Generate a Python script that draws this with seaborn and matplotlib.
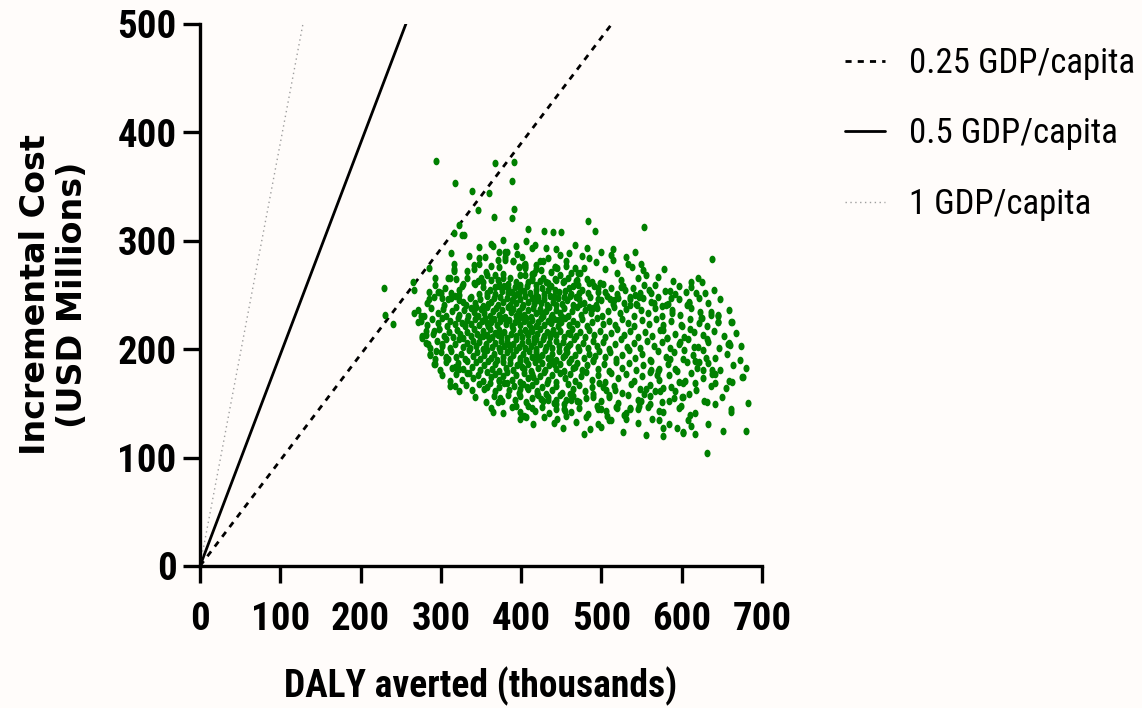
import matplotlib
matplotlib.use("Agg")
import matplotlib.pyplot as plt
import seaborn as sns
import numpy as np
import pandas as pd
from matplotlib import font_manager
from matplotlib.font_manager import FontProperties
from matplotlib.path import Path

# ---------------- data ----------------
# probabilistic sensitivity analysis draws: (DALY averted [thousands], incremental cost [USD millions])
psa_draws_upper = [
    (229, 256), (230, 232), (240, 223), (294, 374), (368, 372), (391, 373), (389, 355), (317, 353),
    (339, 346), (360, 344), (346, 328), (391, 329), (366, 322), (388, 321), (323, 315), (408, 311),
    (429, 309), (440, 308), (450, 308), (316, 307), (326, 305), (329, 305), (378, 301), (406, 300),
    (467, 296), (363, 297), (365, 295), (347, 294), (393, 295), (417, 296), (413, 293), (431, 293),
    (313, 289), (373, 290), (380, 290), (380, 285), (380, 282), (335, 286), (347, 284), (449, 287),
    (371, 282), (363, 277), (390, 281), (427, 281), (405, 277), (405, 275), (456, 281), (456, 277),
    (316, 279), (316, 274), (316, 272), (341, 278), (341, 274), (397, 276), (418, 278), (418, 274),
    (442, 276), (445, 275), (467, 275), (285, 275), (333, 272), (347, 279), (356, 271), (368, 268),
    (377, 269), (377, 266), (414, 269), (414, 266), (414, 264), (293, 266), (293, 259), (309, 266),
    (311, 266), (319, 265), (332, 266), (350, 266), (363, 264), (399, 268), (442, 265), (444, 264),
    (454, 263), (452, 262), (468, 263), (265, 262), (266, 255), (328, 260), (326, 258), (341, 261),
    (343, 260), (372, 260), (372, 258), (384, 260), (384, 256), (384, 252), (399, 259), (399, 256),
    (418, 259), (418, 255), (424, 263), (434, 261), (442, 255), (441, 249), (455, 254), (454, 248),
    (464, 258), (285, 253), (285, 246), (298, 253), (300, 252), (296, 253), (313, 252), (313, 247),
    (322, 255), (322, 250), (322, 245), (336, 247),
    (483, 318), (492, 309), (553, 313), (482, 293), (476, 286), (485, 284), (514, 292), (512, 287),
    (514, 282), (530, 285), (533, 279), (538, 276), (638, 283), (570, 267), (478, 275), (473, 270),
    (524, 264), (524, 257), (529, 255), (567, 259), (559, 255), (562, 252), (579, 254), (605, 253),
    (629, 252), (609, 244), (498, 261), (502, 260), (512, 256), (511, 246), (516, 245), (482, 265),
    (484, 261), (488, 262), (470, 264), (471, 259), (472, 252), (470, 248), (473, 242), (496, 256),
    (496, 253), (496, 246), (536, 248), (535, 241), (542, 250), (547, 248), (543, 242), (485, 239),
    (490, 238), (383, 290), (390, 281), (397, 276), (403, 278), (405, 279), (416, 270), (423, 281),
    (442, 276), (471, 270),
    (352, 262), (358, 268), (371, 264), (386, 266), (393, 262), (405, 268), (409, 262), (427, 266),
    (431, 262), (448, 268), (458, 266), (462, 270), (437, 271), (346, 263), (425, 273), (433, 284),
    (395, 288), (401, 285), (355, 285), (372, 276), (444, 292), (459, 289), (520, 270), (546, 266),
    (552, 273), (589, 263), (597, 258), (612, 262), (625, 262), (505, 274), (493, 280), (499, 290),
    (542, 290), (549, 279), (556, 268), (578, 274), (587, 247), (620, 266),
]

psa_draws_core = [
    # 250-260
    (352, 257), (358, 252), (361, 255), (367, 251), (376, 254), (379, 258), (388, 253), (392, 257),
    (395, 251), (403, 254), (407, 258), (411, 252), (426, 256), (429, 251), (437, 258), (447, 253),
    (459, 256), (462, 251), (476, 255), (483, 252), (491, 258), (505, 253), (520, 251), (527, 258),
    (539, 256), (548, 252), (553, 259), (585, 254), (592, 251), (611, 257), (618, 252), (640, 255),
    (305, 256), (347, 251), (368, 257), (433, 255), (397, 252), (419, 250),
    # 240-250
    (283, 243), (291, 248), (304, 241), (309, 246), (318, 249), (327, 244), (331, 241), (338, 248),
    (342, 243), (349, 246), (353, 240), (357, 249), (362, 244), (366, 247), (371, 241), (374, 248),
    (378, 244), (383, 247), (386, 241), (391, 249), (394, 243), (398, 246), (402, 241), (405, 249),
    (409, 244), (413, 247), (416, 242), (421, 248), (425, 243), (428, 246), (432, 241), (436, 249),
    (440, 244), (446, 247), (451, 242), (457, 245), (461, 249), (465, 241), (472, 246), (478, 243),
    (486, 248), (493, 241), (499, 245), (507, 249), (514, 242), (521, 247), (528, 243), (536, 246),
    (544, 241), (552, 247), (562, 244), (571, 248), (583, 242), (596, 246), (606, 241), (622, 247),
    (633, 243), (648, 246), (359, 242), (388, 245), (420, 245), (444, 241), (468, 248), (301, 247),
    # 230-240
    (272, 236), (279, 231), (288, 238), (296, 233), (303, 237), (307, 231), (314, 235), (319, 239),
    (323, 232), (329, 236), (334, 231), (337, 238), (341, 234), (346, 231), (350, 237), (354, 233),
    (358, 239), (361, 231), (365, 235), (369, 238), (372, 232), (376, 236), (380, 230), (384, 239),
    (387, 234), (390, 237), (393, 231), (397, 235), (401, 239), (404, 232), (408, 236), (412, 230),
    (415, 238), (419, 233), (423, 237), (427, 231), (431, 235), (435, 239), (439, 232), (443, 236),
    (448, 233), (453, 238), (458, 231), (463, 235), (469, 239), (474, 232), (480, 236), (487, 233),
    (494, 238), (501, 231), (508, 235), (516, 239), (523, 233), (531, 237), (540, 231), (549, 236),
    (558, 233), (567, 238), (576, 231), (588, 236), (598, 232), (612, 238), (624, 229), (636, 234),
    (645, 231), (659, 236), (344, 239), (396, 233), (425, 234), (451, 230),
    # 220-230
    (275, 226), (283, 222), (289, 228), (297, 224), (302, 229), (308, 221), (312, 226), (317, 223),
    (321, 229), (326, 224), (330, 221), (333, 227), (338, 223), (343, 228), (347, 222), (351, 226),
    (355, 229), (359, 221), (363, 225), (366, 228), (370, 222), (374, 226), (377, 229), (381, 223),
    (385, 227), (389, 221), (392, 225), (396, 228), (399, 222), (403, 226), (406, 229), (410, 223),
    (414, 227), (418, 221), (421, 225), (425, 229), (429, 222), (433, 226), (437, 224), (441, 228),
    (446, 221), (450, 225), (455, 229), (459, 222), (464, 226), (470, 223), (476, 228), (482, 221),
    (488, 225), (495, 229), (502, 223), (509, 226), (517, 222), (525, 228), (533, 224), (541, 221),
    (550, 227), (559, 223), (568, 228), (577, 222), (587, 226), (599, 222), (610, 228), (621, 224),
    (632, 221), (645, 225), (662, 225), (398, 230), (437, 230), (357, 224), (412, 220), (446, 227),
    # 210-220
    (276, 212), (282, 217), (290, 214), (298, 219), (304, 212), (310, 216), (315, 211), (320, 218),
    (324, 214), (328, 210), (333, 216), (337, 212), (341, 219), (345, 214), (349, 211), (353, 217),
    (357, 213), (361, 219), (364, 211), (368, 215), (372, 218), (375, 212), (379, 216), (383, 210),
    (387, 214), (390, 219), (394, 212), (398, 216), (401, 211), (405, 218), (409, 213), (413, 217),
    (416, 210), (420, 214), (424, 219), (428, 212), (432, 216), (436, 211), (440, 218), (444, 213),
    (449, 217), (453, 211), (458, 215), (463, 219), (468, 212), (473, 216), (479, 211), (485, 218),
    (491, 213), (498, 217), (505, 211), (512, 215), (520, 219), (528, 213), (536, 217), (545, 211),
    (554, 216), (563, 212), (573, 218), (582, 210), (592, 214), (603, 211), (615, 216), (627, 213),
    (640, 217), (653, 212), (668, 215), (371, 213), (407, 215), (438, 215), (352, 212), (461, 214),
    # 200-210
    (281, 206), (287, 201), (295, 208), (301, 203), (306, 209), (312, 201), (318, 205), (323, 209),
    (327, 202), (332, 206), (336, 201), (340, 208), (344, 203), (348, 207), (352, 200), (356, 205),
    (360, 209), (364, 202), (368, 206), (372, 201), (375, 208), (379, 203), (383, 207), (386, 200),
    (390, 205), (394, 209), (397, 202), (401, 206), (405, 201), (408, 208), (412, 203), (416, 207),
    (419, 200), (423, 205), (427, 209), (431, 202), (435, 206), (439, 201), (443, 208), (447, 203),
    (452, 207), (456, 200), (461, 205), (466, 209), (471, 202), (477, 206), (483, 201), (489, 208),
    (495, 203), (502, 207), (509, 200), (517, 205), (524, 209), (532, 202), (540, 206), (548, 201),
    (557, 208), (566, 203), (576, 207), (586, 201), (597, 205), (608, 209), (620, 202), (633, 207),
    (646, 201), (659, 206), (674, 203), (419, 209), (458, 203), (385, 204),
    # 190-200
    (286, 196), (293, 191), (300, 197), (306, 192), (313, 198), (319, 193), (325, 196), (330, 191),
    (335, 199), (340, 194), (345, 197), (349, 191), (354, 195), (358, 199), (362, 192), (366, 196),
    (370, 190), (374, 198), (378, 193), (382, 197), (386, 191), (390, 195), (394, 199), (398, 192),
    (402, 196), (406, 190), (410, 198), (414, 193), (418, 197), (422, 191), (426, 195), (430, 199),
    (434, 192), (438, 196), (443, 190), (447, 198), (452, 193), (457, 197), (462, 191), (467, 195),
    (472, 199), (478, 192), (484, 196), (490, 190), (497, 198), (504, 193), (511, 197), (518, 191),
    (526, 195), (534, 199), (542, 192), (551, 196), (560, 190), (570, 198), (580, 193), (591, 197),
    (602, 191), (614, 195), (627, 199), (641, 192), (656, 196), (672, 190), (420, 194), (455, 195),
    (492, 194),
    # 180-190
    (292, 186), (299, 181), (307, 188), (314, 183), (321, 187), (327, 182), (333, 189), (339, 184),
    (344, 188), (349, 181), (354, 185), (359, 189), (364, 182), (368, 186), (373, 180), (377, 188),
    (381, 183), (386, 187), (390, 181), (395, 185), (399, 189), (403, 182), (408, 186), (412, 180),
    (417, 188), (421, 183), (426, 187), (430, 181), (435, 185), (439, 189), (444, 182), (449, 186),
    (454, 180), (459, 188), (464, 183), (470, 187), (476, 181), (482, 185), (489, 189), (496, 182),
    (503, 186), (510, 180), (518, 188), (526, 183), (534, 187), (543, 181), (552, 185), (562, 189),
    (572, 182), (583, 186), (594, 180), (606, 188), (619, 183), (633, 187), (648, 181), (664, 185),
    (680, 183), (401, 184), (441, 186), (467, 184),
    # 170-180
    (302, 176), (311, 171), (319, 177), (326, 172), (333, 178), (340, 173), (346, 176), (352, 171),
    (357, 179), (363, 174), (368, 177), (373, 171), (378, 175), (383, 179), (388, 172), (393, 176),
    (398, 170), (403, 178), (408, 173), (413, 177), (418, 171), (423, 175), (428, 179), (433, 172),
    (438, 176), (444, 170), (449, 178), (455, 173), (461, 177), (467, 171), (474, 175), (481, 179),
    (488, 172), (496, 176), (504, 170), (512, 178), (521, 173), (530, 177), (540, 171), (550, 175),
    (561, 179), (572, 172), (584, 176), (597, 170), (611, 178), (626, 173), (642, 177), (659, 171),
    (676, 174), (415, 174),
    # 160-170
    (312, 166), (322, 161), (331, 167), (339, 162), (347, 168), (354, 163), (361, 169), (367, 161),
    (373, 165), (379, 169), (385, 162), (391, 166), (397, 160), (402, 168), (408, 163), (414, 167),
    (420, 161), (426, 165), (432, 169), (438, 162), (444, 166), (451, 160), (458, 168), (465, 163),
    (472, 167), (480, 161), (488, 165), (497, 169), (506, 162), (516, 166), (526, 160), (537, 168),
    (548, 163), (560, 167), (573, 161), (587, 165), (602, 169), (618, 162), (636, 166), (655, 164),
    # 150-160
    (342, 156), (356, 151), (366, 157), (376, 152), (384, 158), (392, 153), (399, 157), (406, 151),
    (413, 155), (420, 159), (427, 152), (434, 156), (441, 150), (448, 158), (456, 153), (464, 157),
    (472, 151), (481, 155), (490, 159), (500, 152), (510, 156), (521, 150), (533, 158), (546, 153),
    (560, 157), (575, 151), (591, 155), (609, 159), (628, 152), (650, 156),
    # 140-150
    (362, 146), (378, 141), (389, 147), (398, 142), (408, 148), (417, 143), (426, 147), (435, 141),
    (444, 145), (453, 149), (462, 142), (472, 146), (483, 140), (494, 148), (506, 143), (518, 147),
    (531, 141), (545, 145), (560, 149), (577, 142), (596, 146), (617, 141),
    # 130-140
    (398, 136), (415, 131), (429, 137), (441, 132), (456, 138), (468, 133), (481, 137), (496, 131),
    (512, 135), (528, 139), (545, 132), (563, 136), (584, 131), (608, 135),
    # 120-130
    (452, 127), (478, 122), (499, 128), (527, 124), (556, 121), (577, 127), (602, 123), (651, 125),
]

psa_draws_lower = [
    (486, 126), (496, 145), (499, 145), (507, 138), (509, 135), (520, 146), (531, 136), (536, 145),
    (547, 148), (549, 152), (558, 147), (572, 143), (572, 135), (577, 120), (584, 152), (599, 148),
    (600, 156), (602, 156), (594, 127), (601, 124), (610, 139), (611, 129), (617, 122), (631, 104),
    (631, 151), (633, 131), (641, 149), (661, 142), (662, 145), (680, 125), (683, 150), (663, 170),
    (675, 174), (641, 169), (638, 177), (616, 169), (604, 171), (626, 181), (617, 189), (621, 188),
    (630, 192), (638, 181), (658, 205), (660, 204), (663, 225), (632, 209), (645, 232), (645, 225),
    (636, 232), (623, 234), (625, 229), (615, 202), (603, 199), (610, 219), (600, 221), (598, 207),
    (588, 233), (609, 243), (577, 218), (582, 210), (586, 191), (592, 182), (576, 240), (581, 241),
    (565, 243), (569, 176), (567, 161), (577, 164), (592, 161), (562, 181), (570, 180), (555, 163),
    (553, 159), (536, 146), (517, 162), (509, 158), (502, 165), (489, 156),
    (267, 233), (275, 231), (271, 225), (276, 210), (282, 213), (284, 205), (286, 195), (293, 186),
    (294, 198), (291, 217), (298, 219), (301, 205), (307, 193), (309, 191), (318, 166), (318, 184),
    (322, 182), (335, 178), (358, 165), (374, 155), (371, 151), (365, 142), (394, 148), (404, 138),
    (406, 137), (413, 146), (445, 136), (453, 145), (455, 143), (421, 158), (425, 154), (433, 153),
    (444, 153), (443, 149), (399, 163), (407, 165), (431, 159), (461, 159), (462, 153), (469, 152),
    (372, 172), (382, 169),
]

psa_draws = psa_draws_upper + psa_draws_core + psa_draws_lower
daly_averted = [p[0] for p in psa_draws]
incremental_cost = [p[1] for p in psa_draws]

# willingness-to-pay thresholds (fraction of GDP per capita)
gdp_per_capita_usd = 3900
threshold_fractions = [0.25, 0.5, 1]
threshold_labels = ["0.25 GDP/capita", "0.5 GDP/capita", "1 GDP/capita"]
x_ticks = [0, 100, 200, 300, 400, 500, 600, 700]
y_ticks = [0, 100, 200, 300, 400, 500]

# ---------------- fonts ----------------
sns.set_theme(style="ticks")
entries = font_manager.fontManager.ttflist
names = {e.name for e in entries}


def pick_narrow():
    for cand in ["Liberation Sans Narrow", "Roboto Condensed", "Noto Sans Condensed",
                 "Open Sans Condensed", "Noto Sans SemiCondensed"]:
        if cand in names:
            return cand, "normal", True
    for e in entries:
        if "condensed" in str(e.stretch).lower() and e.name in (
                "Noto Sans", "Roboto", "Open Sans", "DejaVu Sans", "Lato", "Inter"):
            return e.name, "condensed", True
    return ("Liberation Sans" if "Liberation Sans" in names else "DejaVu Sans"), "normal", False


narrow_family, narrow_stretch, is_narrow = pick_narrow()
k = 1.0 if is_narrow else 0.86   # shrink if no condensed face exists

plt.rcParams["font.family"] = [narrow_family, "DejaVu Sans"]


def fp(size, weight="normal", family=None, stretch=None):
    return FontProperties(family=[family or narrow_family, "DejaVu Sans"], weight=weight,
                          stretch=stretch or narrow_stretch, size=size)


# ---------------- figure ----------------
bg = "#fffcfa"
fig = plt.figure(figsize=(11.42, 7.08), dpi=100, facecolor=bg)
ax = fig.add_axes([200 / 1142, 1 - 566 / 708, 562 / 1142, 542 / 708])
ax.set_facecolor(bg)

# threshold lines
line_x = np.array([0, 700])
styles = [
    dict(color="black", linewidth=2.0, dashes=(2.2, 2.2)),
    dict(color="black", linewidth=2.0),
    dict(color="#9e9e9e", linewidth=1.0, dashes=(1.0, 2.5)),
]
line_handles = []
for frac, lab, st in zip(threshold_fractions, threshold_labels, styles):
    cost = line_x * 1000 * gdp_per_capita_usd * frac / 1e6
    sns.lineplot(x=line_x, y=cost, ax=ax, legend=False, **st)
    line_handles.append(ax.lines[-1])

# elliptical marker (the reference is slightly stretched vertically)
t = np.linspace(0, 2 * np.pi, 40)
ell = Path(np.column_stack([0.8 * np.cos(t), np.sin(t)]), closed=True)
df = pd.DataFrame({"daly": daly_averted, "cost": incremental_cost})
sns.scatterplot(data=df, x="daly", y="cost", ax=ax, color="#008000", marker=ell,
                s=30, linewidth=0, zorder=3, legend=False)
if ax.get_legend() is not None:
    ax.get_legend().remove()

ax.set_xlim(0, 700)
ax.set_ylim(0, 500)
ax.set_xticks(x_ticks)
ax.set_yticks(y_ticks)
sns.despine(ax=ax)
for side in ["left", "bottom"]:
    ax.spines[side].set_linewidth(2.4)
    ax.spines[side].set_color("black")
ax.tick_params(axis="both", direction="out", length=12, width=2.4, color="black",
               labelcolor="black")
ax.tick_params(axis="x", pad=13)
ax.tick_params(axis="y", pad=5)
for lbl in ax.get_xticklabels() + ax.get_yticklabels():
    lbl.set_fontproperties(fp(28 * k, "bold"))

ax.set_xlabel("DALY averted (thousands)", fontproperties=fp(27 * k, "bold"), color="black")
ax.xaxis.set_label_coords(0.5, -0.185)
ax.set_ylabel("Incremental Cost\n(USD Millions)",
              fontproperties=FontProperties(family="DejaVu Sans", weight="bold", size=24),
              color="black", linespacing=1.15)
ax.yaxis.set_label_coords(-0.198, 0.5)

leg = fig.legend(handles=line_handles, labels=threshold_labels, loc="upper left",
                 bbox_to_anchor=(845 / 1142, 1 - 47 / 708), frameon=False,
                 prop=fp(25 * k), handlelength=1.15, handletextpad=0.7,
                 labelspacing=1.08, borderpad=0, borderaxespad=0)
for txt in leg.get_texts():
    txt.set_color("black")

fig.savefig("out.png", dpi=100, facecolor=bg)
